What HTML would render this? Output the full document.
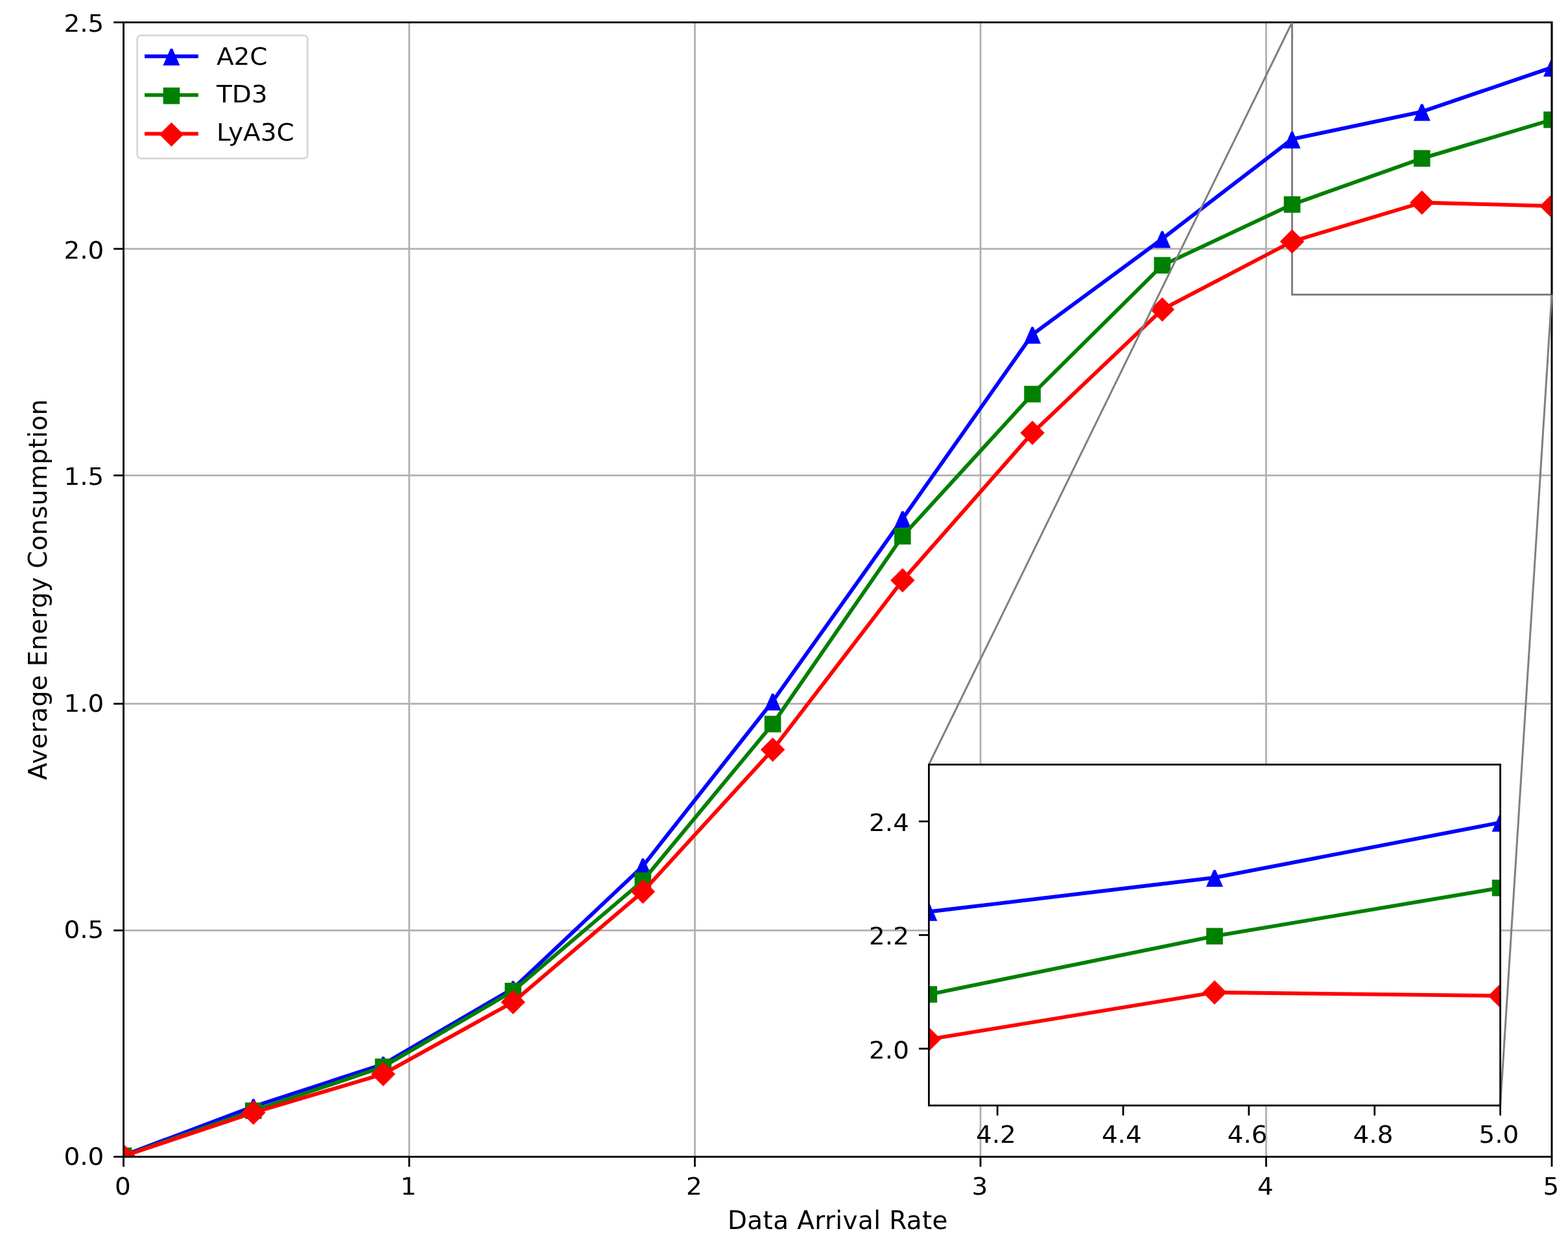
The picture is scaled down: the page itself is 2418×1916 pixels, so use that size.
<!DOCTYPE html>
<html lang="en"><head><meta charset="utf-8"><title>Average Energy Consumption vs Data Arrival Rate</title>
<style>
html,body{margin:0;padding:0;background:#fff;}
body{width:2418px;height:1916px;overflow:hidden;}
svg{display:block;filter:blur(0.45px);}
</style></head><body>
<svg width="2418" height="1916" viewBox="0 0 2418 1916" font-family='"DejaVu Sans","Liberation Sans",sans-serif' font-size="38.9">
<defs><clipPath id="cm"><rect x="190.5" y="34.5" width="2202.5" height="1750"/></clipPath><clipPath id="ci"><rect x="1432.4" y="1179.5" width="881.2" height="525.9"/></clipPath></defs>
<rect width="2418" height="1916" fill="#fff"/>
<rect x="1992.55" y="34.5" width="400.45" height="420" fill="none" stroke="#808080" stroke-width="3"/>
<g stroke="#b0b0b0" stroke-width="2.8"><line x1="190.5" y1="34.5" x2="190.5" y2="1784.5"/><line x1="631" y1="34.5" x2="631" y2="1784.5"/><line x1="1071.5" y1="34.5" x2="1071.5" y2="1784.5"/><line x1="1512" y1="34.5" x2="1512" y2="1784.5"/><line x1="1952.5" y1="34.5" x2="1952.5" y2="1784.5"/><line x1="2393" y1="34.5" x2="2393" y2="1784.5"/><line x1="190.5" y1="1784.5" x2="2393" y2="1784.5"/><line x1="190.5" y1="1435.3" x2="2393" y2="1435.3"/><line x1="190.5" y1="1085.7" x2="2393" y2="1085.7"/><line x1="190.5" y1="733.4" x2="2393" y2="733.4"/><line x1="190.5" y1="383.9" x2="2393" y2="383.9"/><line x1="190.5" y1="34.5" x2="2393" y2="34.5"/></g>
<g clip-path="url(#cm)">
<polyline points="190.5,1782.4 390.73,1707.01 590.95,1641.7 791.18,1525.08 991.41,1336.01 1191.64,1081.84 1391.86,800.23 1592.09,516.03 1792.32,368.4 1992.55,214.68 2192.77,172.33 2393,104.08" fill="none" stroke="#0000ff" stroke-width="5.83" stroke-linejoin="round" stroke-linecap="butt"/>
<polygon points="188.9,1770.6 192.1,1770.6 203.5,1796.6 177.5,1796.6" fill="#0000ff"/>
<polygon points="389.13,1695.21 392.33,1695.21 403.73,1721.21 377.73,1721.21" fill="#0000ff"/>
<polygon points="589.35,1629.9 592.55,1629.9 603.95,1655.9 577.95,1655.9" fill="#0000ff"/>
<polygon points="789.58,1513.28 792.78,1513.28 804.18,1539.28 778.18,1539.28" fill="#0000ff"/>
<polygon points="989.81,1324.21 993.01,1324.21 1004.41,1350.21 978.41,1350.21" fill="#0000ff"/>
<polygon points="1190.04,1070.04 1193.24,1070.04 1204.64,1096.04 1178.64,1096.04" fill="#0000ff"/>
<polygon points="1390.26,788.43 1393.46,788.43 1404.86,814.43 1378.86,814.43" fill="#0000ff"/>
<polygon points="1590.49,504.23 1593.69,504.23 1605.09,530.23 1579.09,530.23" fill="#0000ff"/>
<polygon points="1790.72,356.6 1793.92,356.6 1805.32,382.6 1779.32,382.6" fill="#0000ff"/>
<polygon points="1990.95,202.88 1994.15,202.88 2005.55,228.88 1979.55,228.88" fill="#0000ff"/>
<polygon points="2191.17,160.53 2194.37,160.53 2205.77,186.53 2179.77,186.53" fill="#0000ff"/>
<polygon points="2391.4,92.28 2394.6,92.28 2406,118.28 2380,118.28" fill="#0000ff"/>
<polyline points="190.5,1783.1 390.73,1713.52 590.95,1645.83 791.18,1528.79 991.41,1358.62 1191.64,1116.98 1391.86,827.11 1592.09,608.01 1792.32,409.28 1992.55,315.48 2192.77,244.36 2393,184.72" fill="none" stroke="#008000" stroke-width="5.83" stroke-linejoin="round" stroke-linecap="butt"/>
<polygon points="177.7,1770.3 203.3,1770.3 203.3,1795.9 177.7,1795.9" fill="#008000"/>
<polygon points="377.93,1700.72 403.53,1700.72 403.53,1726.32 377.93,1726.32" fill="#008000"/>
<polygon points="578.15,1633.03 603.75,1633.03 603.75,1658.63 578.15,1658.63" fill="#008000"/>
<polygon points="778.38,1515.99 803.98,1515.99 803.98,1541.59 778.38,1541.59" fill="#008000"/>
<polygon points="978.61,1345.82 1004.21,1345.82 1004.21,1371.42 978.61,1371.42" fill="#008000"/>
<polygon points="1178.84,1104.18 1204.44,1104.18 1204.44,1129.78 1178.84,1129.78" fill="#008000"/>
<polygon points="1379.06,814.31 1404.66,814.31 1404.66,839.91 1379.06,839.91" fill="#008000"/>
<polygon points="1579.29,595.21 1604.89,595.21 1604.89,620.81 1579.29,620.81" fill="#008000"/>
<polygon points="1779.52,396.48 1805.12,396.48 1805.12,422.08 1779.52,422.08" fill="#008000"/>
<polygon points="1979.75,302.68 2005.35,302.68 2005.35,328.28 1979.75,328.28" fill="#008000"/>
<polygon points="2179.97,231.56 2205.57,231.56 2205.57,257.16 2179.97,257.16" fill="#008000"/>
<polygon points="2380.2,171.92 2405.8,171.92 2405.8,197.52 2380.2,197.52" fill="#008000"/>
<polyline points="190.5,1783.45 390.73,1716.53 590.95,1656.89 791.18,1546.01 991.41,1375.49 1191.64,1156.53 1391.86,895.22 1592.09,667.79 1792.32,477.39 1992.55,372.53 2192.77,312.47 2393,317.93" fill="none" stroke="#ff0000" stroke-width="5.83" stroke-linejoin="round" stroke-linecap="butt"/>
<polygon points="190.5,1764.7 209.25,1783.45 190.5,1802.2 171.75,1783.45" fill="#ff0000"/>
<polygon points="390.73,1697.78 409.48,1716.53 390.73,1735.28 371.98,1716.53" fill="#ff0000"/>
<polygon points="590.95,1638.14 609.7,1656.89 590.95,1675.64 572.2,1656.89" fill="#ff0000"/>
<polygon points="791.18,1527.26 809.93,1546.01 791.18,1564.76 772.43,1546.01" fill="#ff0000"/>
<polygon points="991.41,1356.74 1010.16,1375.49 991.41,1394.24 972.66,1375.49" fill="#ff0000"/>
<polygon points="1191.64,1137.78 1210.39,1156.53 1191.64,1175.28 1172.89,1156.53" fill="#ff0000"/>
<polygon points="1391.86,876.47 1410.61,895.22 1391.86,913.97 1373.11,895.22" fill="#ff0000"/>
<polygon points="1592.09,649.04 1610.84,667.79 1592.09,686.54 1573.34,667.79" fill="#ff0000"/>
<polygon points="1792.32,458.64 1811.07,477.39 1792.32,496.14 1773.57,477.39" fill="#ff0000"/>
<polygon points="1992.55,353.78 2011.3,372.53 1992.55,391.28 1973.8,372.53" fill="#ff0000"/>
<polygon points="2192.77,293.72 2211.52,312.47 2192.77,331.22 2174.02,312.47" fill="#ff0000"/>
<polygon points="2393,299.18 2411.75,317.93 2393,336.68 2374.25,317.93" fill="#ff0000"/>
</g>
<g stroke="#000" stroke-width="2.8" fill="none">
<rect x="190.5" y="34.5" width="2202.5" height="1750"/>
<line x1="190.5" y1="1784.5" x2="190.5" y2="1799.9"/>
<line x1="190.5" y1="1784.5" x2="175.1" y2="1784.5"/>
<line x1="631" y1="1784.5" x2="631" y2="1799.9"/>
<line x1="190.5" y1="1435.3" x2="175.1" y2="1435.3"/>
<line x1="1071.5" y1="1784.5" x2="1071.5" y2="1799.9"/>
<line x1="190.5" y1="1085.7" x2="175.1" y2="1085.7"/>
<line x1="1512" y1="1784.5" x2="1512" y2="1799.9"/>
<line x1="190.5" y1="733.4" x2="175.1" y2="733.4"/>
<line x1="1952.5" y1="1784.5" x2="1952.5" y2="1799.9"/>
<line x1="190.5" y1="383.9" x2="175.1" y2="383.9"/>
<line x1="2393" y1="1784.5" x2="2393" y2="1799.9"/>
<line x1="190.5" y1="34.5" x2="175.1" y2="34.5"/>
</g>
<g fill="#000">
<text transform="translate(189.3,1842.8) scale(1,0.955)" text-anchor="middle">0</text>
<text transform="translate(629.8,1842.8) scale(1,0.955)" text-anchor="middle">1</text>
<text transform="translate(1070.3,1842.8) scale(1,0.955)" text-anchor="middle">2</text>
<text transform="translate(1510.8,1842.8) scale(1,0.955)" text-anchor="middle">3</text>
<text transform="translate(1951.3,1842.8) scale(1,0.955)" text-anchor="middle">4</text>
<text transform="translate(2391.8,1842.8) scale(1,0.955)" text-anchor="middle">5</text>
<text transform="translate(160.3,1796.9) scale(1,0.955)" text-anchor="end">0.0</text>
<text transform="translate(160.3,1447.3) scale(1,0.955)" text-anchor="end">0.5</text>
<text transform="translate(160.3,1097.8) scale(1,0.955)" text-anchor="end">1.0</text>
<text transform="translate(160.3,748.1) scale(1,0.955)" text-anchor="end">1.5</text>
<text transform="translate(160.3,398.7) scale(1,0.955)" text-anchor="end">2.0</text>
<text transform="translate(160.3,49.2) scale(1,0.955)" text-anchor="end">2.5</text>
<text transform="translate(1291.75,1896.4)" text-anchor="middle" textLength="339.5" lengthAdjust="spacing">Data Arrival Rate</text>
<text transform="translate(72.4,909.5) rotate(-90)" text-anchor="middle" textLength="587.5" lengthAdjust="spacing">Average Energy Consumption</text>
</g>
<rect x="211.7" y="54.7" width="262.6" height="189.6" rx="5.5" ry="5.5" fill="#fff" fill-opacity="0.8" stroke="#cccccc" stroke-opacity="0.8" stroke-width="2.8"/>
<line x1="223" y1="86.9" x2="305.8" y2="86.9" stroke="#0000ff" stroke-width="5.83"/>
<polygon points="262.8,75.1 266,75.1 277.4,101.1 251.4,101.1" fill="#0000ff"/>
<text transform="translate(334,100.4) scale(1,0.975)">A2C</text>
<line x1="223" y1="146.6" x2="305.8" y2="146.6" stroke="#008000" stroke-width="5.83"/>
<polygon points="251.6,135 277.2,135 277.2,160.6 251.6,160.6" fill="#008000"/>
<text transform="translate(334,157.6) scale(1,0.975)">TD3</text>
<line x1="223" y1="206.4" x2="305.8" y2="206.4" stroke="#ff0000" stroke-width="5.83"/>
<polygon points="264.4,188.65 283.15,207.4 264.4,226.15 245.65,207.4" fill="#ff0000"/>
<text transform="translate(334,217.2) scale(1,0.975)">LyA3C</text>
<rect x="1432.4" y="1179.5" width="881.2" height="525.9" fill="#fff"/>
<g stroke="#808080" stroke-width="3" fill="none">
<line x1="1432.4" y1="1179.5" x2="1992.55" y2="34.5"/>
<line x1="2313.6" y1="1705.4" x2="2393" y2="454.5"/>
</g>
<g clip-path="url(#ci)">
<polyline points="-2533,3368.12 -2092.4,3273.72 -1651.8,3191.94 -1211.2,3045.92 -770.6,2809.18 -330,2490.92 110.6,2138.3 551.2,1782.44 991.8,1597.59 1432.4,1406.51 1873,1353.92 2313.6,1268.9" fill="none" stroke="#0000ff" stroke-width="5.83" stroke-linejoin="round" stroke-linecap="butt"/>
<polygon points="-2534.6,3356.32 -2531.4,3356.32 -2520,3382.32 -2546,3382.32" fill="#0000ff"/>
<polygon points="-2094,3261.92 -2090.8,3261.92 -2079.4,3287.92 -2105.4,3287.92" fill="#0000ff"/>
<polygon points="-1653.4,3180.14 -1650.2,3180.14 -1638.8,3206.14 -1664.8,3206.14" fill="#0000ff"/>
<polygon points="-1212.8,3034.12 -1209.6,3034.12 -1198.2,3060.12 -1224.2,3060.12" fill="#0000ff"/>
<polygon points="-772.2,2797.38 -769,2797.38 -757.6,2823.38 -783.6,2823.38" fill="#0000ff"/>
<polygon points="-331.6,2479.12 -328.4,2479.12 -317,2505.12 -343,2505.12" fill="#0000ff"/>
<polygon points="109,2126.5 112.2,2126.5 123.6,2152.5 97.6,2152.5" fill="#0000ff"/>
<polygon points="549.6,1770.64 552.8,1770.64 564.2,1796.64 538.2,1796.64" fill="#0000ff"/>
<polygon points="990.2,1585.79 993.4,1585.79 1004.8,1611.79 978.8,1611.79" fill="#0000ff"/>
<polygon points="1430.8,1394.71 1434,1394.71 1445.4,1420.71 1419.4,1420.71" fill="#0000ff"/>
<polygon points="1871.4,1342.12 1874.6,1342.12 1886,1368.12 1860,1368.12" fill="#0000ff"/>
<polygon points="2312,1257.1 2315.2,1257.1 2326.6,1283.1 2300.6,1283.1" fill="#0000ff"/>
<polyline points="-2533,3369 -2092.4,3281.87 -1651.8,3197.12 -1211.2,3050.56 -770.6,2837.49 -330,2534.92 110.6,2171.96 551.2,1897.62 991.8,1648.78 1432.4,1534.04 1873,1444.2 2313.6,1369.7" fill="none" stroke="#008000" stroke-width="5.83" stroke-linejoin="round" stroke-linecap="butt"/>
<polygon points="-2545.8,3356.2 -2520.2,3356.2 -2520.2,3381.8 -2545.8,3381.8" fill="#008000"/>
<polygon points="-2105.2,3269.07 -2079.6,3269.07 -2079.6,3294.67 -2105.2,3294.67" fill="#008000"/>
<polygon points="-1664.6,3184.32 -1639,3184.32 -1639,3209.92 -1664.6,3209.92" fill="#008000"/>
<polygon points="-1224,3037.76 -1198.4,3037.76 -1198.4,3063.36 -1224,3063.36" fill="#008000"/>
<polygon points="-783.4,2824.69 -757.8,2824.69 -757.8,2850.29 -783.4,2850.29" fill="#008000"/>
<polygon points="-342.8,2522.12 -317.2,2522.12 -317.2,2547.72 -342.8,2547.72" fill="#008000"/>
<polygon points="97.8,2159.16 123.4,2159.16 123.4,2184.76 97.8,2184.76" fill="#008000"/>
<polygon points="538.4,1884.82 564,1884.82 564,1910.42 538.4,1910.42" fill="#008000"/>
<polygon points="979,1635.98 1004.6,1635.98 1004.6,1661.58 979,1661.58" fill="#008000"/>
<polygon points="1419.6,1521.24 1445.2,1521.24 1445.2,1546.84 1419.6,1546.84" fill="#008000"/>
<polygon points="1860.2,1431.4 1885.8,1431.4 1885.8,1457 1860.2,1457" fill="#008000"/>
<polygon points="2300.8,1356.9 2326.4,1356.9 2326.4,1382.5 2300.8,1382.5" fill="#008000"/>
<polyline points="-2533,3369.44 -2092.4,3285.64 -1651.8,3210.96 -1211.2,3072.13 -770.6,2858.61 -330,2584.44 110.6,2257.24 551.2,1972.47 991.8,1734.06 1432.4,1603.29 1873,1530.98 2313.6,1536.24" fill="none" stroke="#ff0000" stroke-width="5.83" stroke-linejoin="round" stroke-linecap="butt"/>
<polygon points="-2533,3350.69 -2514.25,3369.44 -2533,3388.19 -2551.75,3369.44" fill="#ff0000"/>
<polygon points="-2092.4,3266.89 -2073.65,3285.64 -2092.4,3304.39 -2111.15,3285.64" fill="#ff0000"/>
<polygon points="-1651.8,3192.21 -1633.05,3210.96 -1651.8,3229.71 -1670.55,3210.96" fill="#ff0000"/>
<polygon points="-1211.2,3053.38 -1192.45,3072.13 -1211.2,3090.88 -1229.95,3072.13" fill="#ff0000"/>
<polygon points="-770.6,2839.86 -751.85,2858.61 -770.6,2877.36 -789.35,2858.61" fill="#ff0000"/>
<polygon points="-330,2565.69 -311.25,2584.44 -330,2603.19 -348.75,2584.44" fill="#ff0000"/>
<polygon points="110.6,2238.49 129.35,2257.24 110.6,2275.99 91.85,2257.24" fill="#ff0000"/>
<polygon points="551.2,1953.72 569.95,1972.47 551.2,1991.22 532.45,1972.47" fill="#ff0000"/>
<polygon points="991.8,1715.31 1010.55,1734.06 991.8,1752.81 973.05,1734.06" fill="#ff0000"/>
<polygon points="1432.4,1584.54 1451.15,1603.29 1432.4,1622.04 1413.65,1603.29" fill="#ff0000"/>
<polygon points="1873,1512.23 1891.75,1530.98 1873,1549.73 1854.25,1530.98" fill="#ff0000"/>
<polygon points="2313.6,1517.49 2332.35,1536.24 2313.6,1554.99 2294.85,1536.24" fill="#ff0000"/>
</g>
<g stroke="#000" stroke-width="2.8" fill="none">
<rect x="1432.4" y="1179.5" width="881.2" height="525.9"/>
<line x1="1538.14" y1="1705.4" x2="1538.14" y2="1720.8"/>
<line x1="1732.01" y1="1705.4" x2="1732.01" y2="1720.8"/>
<line x1="1925.87" y1="1705.4" x2="1925.87" y2="1720.8"/>
<line x1="2119.74" y1="1705.4" x2="2119.74" y2="1720.8"/>
<line x1="2313.6" y1="1705.4" x2="2313.6" y2="1720.8"/>
<line x1="1432.4" y1="1617.75" x2="1417" y2="1617.75"/>
<line x1="1432.4" y1="1442.45" x2="1417" y2="1442.45"/>
<line x1="1432.4" y1="1267.15" x2="1417" y2="1267.15"/>
</g>
<g fill="#000">
<text transform="translate(1535.94,1762.7) scale(1,0.955)" text-anchor="middle">4.2</text>
<text transform="translate(1729.81,1762.7) scale(1,0.955)" text-anchor="middle">4.4</text>
<text transform="translate(1923.67,1762.7) scale(1,0.955)" text-anchor="middle">4.6</text>
<text transform="translate(2117.54,1762.7) scale(1,0.955)" text-anchor="middle">4.8</text>
<text transform="translate(2311.4,1762.7) scale(1,0.955)" text-anchor="middle">5.0</text>
<text transform="translate(1401.9,1632.55) scale(1,0.955)" text-anchor="end">2.0</text>
<text transform="translate(1401.9,1457.25) scale(1,0.955)" text-anchor="end">2.2</text>
<text transform="translate(1401.9,1281.95) scale(1,0.955)" text-anchor="end">2.4</text>
</g>
</svg>
</body></html>
